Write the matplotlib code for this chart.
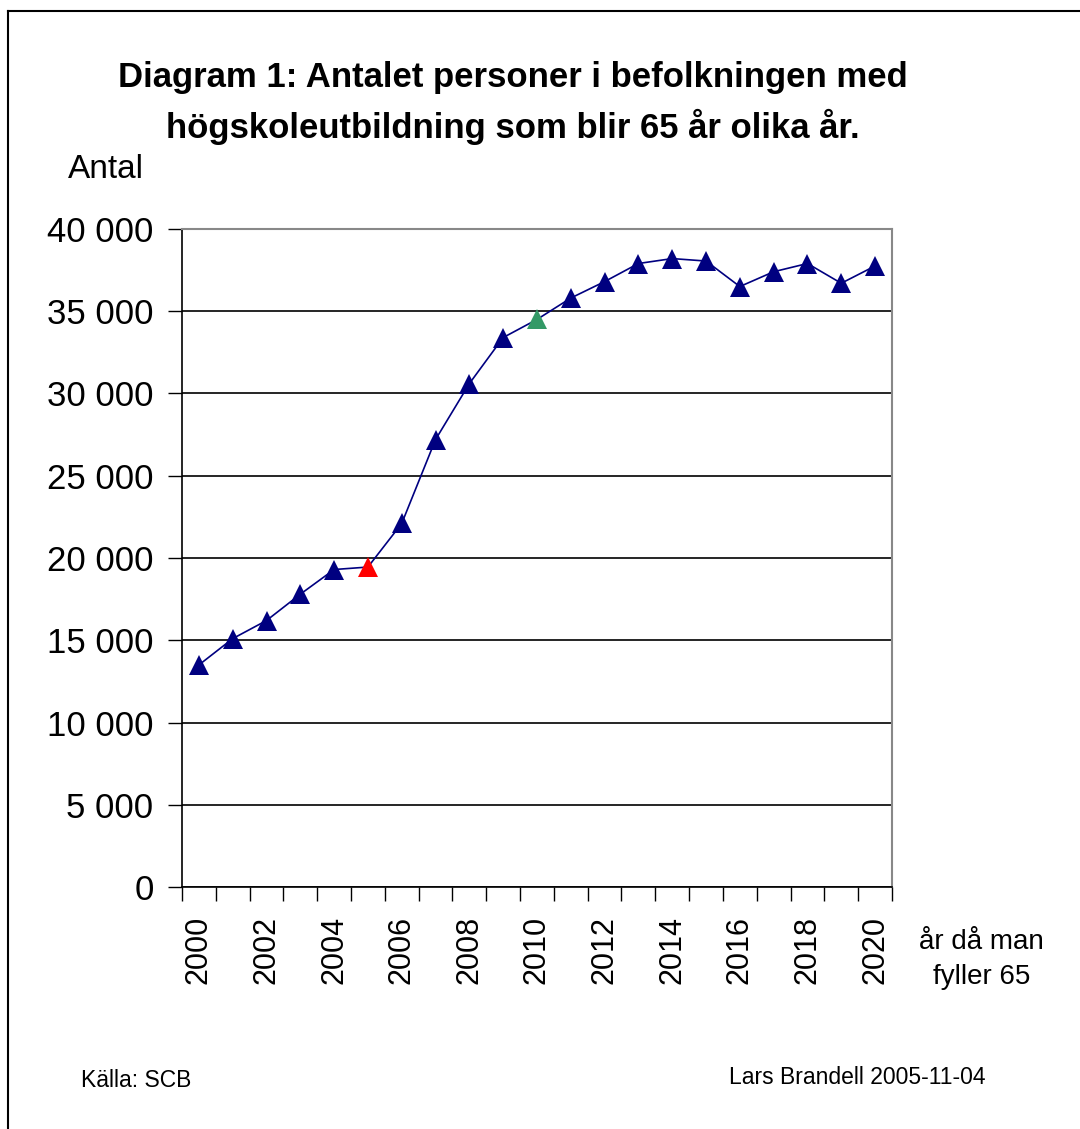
import matplotlib.pyplot as plt
from matplotlib.lines import Line2D

plt.rcParams['font.family'] = ['Liberation Sans', 'DejaVu Sans']

# Data
years = list(range(2000, 2021))
antal = [13500, 15100, 16200, 17800, 19300, 19450, 22100, 27200, 30600, 33400,
         34500, 35800, 36800, 37900, 38200, 38050, 36500, 37400, 37900, 36700, 37750]
special = {2005: "#ff0000", 2010: "#339966"}
yticks = [0, 5000, 10000, 15000, 20000, 25000, 30000, 35000, 40000]

fig = plt.figure(figsize=(10.8, 11.29), dpi=100)
ax = fig.add_axes([0.1685, 0.2143, 0.6574, 0.5829])

x = list(range(len(years)))
ax.plot(x, antal, color="#000080", linewidth=1.2, zorder=3)
for i, (yr, v) in enumerate(zip(years, antal)):
    ax.plot(i, v, marker="^", markersize=14, color=special.get(yr, "#000080"),
            markeredgewidth=0, linestyle="none", zorder=4)

ax.set_xlim(-0.5, len(years) - 0.5)
ax.set_ylim(0, 40000)

# y axis
ax.set_yticks(yticks)
ax.set_yticklabels([f"{v:,}".replace(",", " ") for v in yticks], fontsize=25)
ax.tick_params(axis="y", direction="out", length=10, width=1, pad=10.5)
ax.grid(axis="y", color="black", linewidth=1.2)

# x axis: tick marks between categories, labels every second year
ax.set_xticks([i - 0.5 for i in range(len(years) + 1)])
ax.set_xticklabels([])
ax.set_xticks(x[::2], minor=True)
ax.set_xticklabels([str(y) for y in years[::2]], minor=True, rotation=90, fontsize=22)
ax.tick_params(axis="x", which="major", direction="out", length=10, width=1)
ax.tick_params(axis="x", which="minor", length=0, pad=21)

for s in ["top", "right"]:
    ax.spines[s].set_color("#888888")
    ax.spines[s].set_linewidth(1.5)
for s in ["left", "bottom"]:
    ax.spines[s].set_color("black")
    ax.spines[s].set_linewidth(1.2)

fig.text(0.475, 0.931, "Diagram 1: Antalet personer i befolkningen med",
         ha="center", va="center", fontsize=25, fontweight="bold")
fig.text(0.475, 0.888, "högskoleutbildning som blir 65 år olika år.",
         ha="center", va="center", fontsize=25, fontweight="bold")
fig.text(0.098, 0.850, "Antal", ha="center", va="center", fontsize=24)
fig.text(0.909, 0.150, "år då man\nfyller 65", ha="center", va="center",
         fontsize=20, linespacing=1.45)
fig.text(0.126, 0.0434, "Källa: SCB", ha="center", va="center", fontsize=16.5)
fig.text(0.794, 0.046, "Lars Brandell 2005-11-04", ha="center", va="center", fontsize=16.5)

# outer frame (left and top edges visible)
fig.add_artist(Line2D([0.0074, 0.0074], [0, 0.9902], transform=fig.transFigure,
                      color="black", linewidth=1.5))
fig.add_artist(Line2D([0.0074, 1.0], [0.9902, 0.9902], transform=fig.transFigure,
                      color="black", linewidth=1.5))

fig.savefig("out.png", dpi=100)
